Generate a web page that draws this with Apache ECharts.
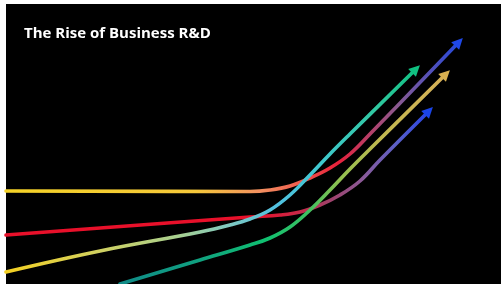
<!DOCTYPE html>
<html>
<head>
<meta charset="utf-8">
<script src="https://cdn.jsdelivr.net/npm/echarts@6/dist/echarts.min.js"></script>
<style>
  html, body { margin: 0; padding: 0; background: #fff; }
  #chart { width: 501px; height: 284px; }
</style>
</head>
<body>
<div id="chart"></div>
<script>
// x = time, y = R&D level (arbitrary units)
const lineA = [[0, 93], [244, 92.5], [264, 94], [284, 98], [304, 106], [324, 116], [344, 130], [364, 150], [453, 242]]
const lineB = [[0, 49], [244, 67], [274, 69], [294, 72], [314, 79], [334, 89], [354, 103], [374, 124], [423, 173]]
const lineC = [[0, 12], [94, 33], [194, 52], [224, 59], [244, 65], [264, 74], [284, 89], [304, 109], [324, 130], [344, 150], [410, 215]]
const lineD = [[114, 0], [194, 24], [244, 39], [264, 46], [284, 57], [304, 74], [324, 94], [344, 115], [364, 135], [440, 210]]

const chart = echarts.init(document.getElementById('chart'))

function grad(stops) {
  return new echarts.graphic.LinearGradient(0, 0, 1, 0,
    stops.map(s => ({ offset: s[0], color: s[1] })))
}

function mkSeries(name, data, stops, arrowColor) {
  const n = data.length
  return {
    name,
    type: 'line',
    data,
    smooth: 0.4,
    showSymbol: false,
    silent: true,
    lineStyle: { width: 3.6, color: grad(stops), cap: 'round' },
    markLine: {
      silent: true,
      symbol: ['none', 'triangle'],
      symbolSize: [11, 11],
      label: { show: false },
      lineStyle: { width: 0, color: arrowColor, type: 'solid' },
      data: [[{ coord: data[n - 2] }, { coord: data[n - 1] }]],
    },
    z: 2,
  }
}

chart.setOption({
  backgroundColor: '#fff',
  animation: false,
  title: {
    text: 'The Rise of Business R&D',
    left: 24, top: 26, padding: 0,
    textStyle: { color: '#fff', fontSize: 15, fontWeight: 'bold', fontFamily: 'Open Sans' },
  },
  grid: { left: 6, right: 0, top: 4, bottom: 0, show: true, backgroundColor: '#000', borderWidth: 0 },
  xAxis: { type: 'value', min: 0, max: 495, show: false },
  yAxis: { type: 'value', min: 0, max: 280, show: false },
  series: [
    mkSeries('A', lineA, [[0, '#f5d327'], [0.42, '#f5c83a'], [0.56, '#f39060'], [0.64, '#f06050'],
      [0.73, '#e8203a'], [0.86, '#8a5a90'], [1, '#2048e0']], '#1f48e8'),
    mkSeries('B', lineB, [[0, '#e8102a'], [0.59, '#e8102a'], [0.69, '#c82848'], [0.76, '#a04068'],
      [0.84, '#8a5a98'], [0.92, '#5a60c8'], [1, '#2040e8']], '#1a44e8'),
    mkSeries('C', lineC, [[0, '#f5d020'], [0.23, '#d0d060'], [0.42, '#a8d090'], [0.54, '#80c8c0'],
      [0.66, '#50c0e0'], [0.76, '#40c8d0'], [0.9, '#30c8a0'], [1, '#10c080']], '#10c080'),
    mkSeries('D', lineD, [[0, '#108a88'], [0.24, '#10a080'], [0.45, '#10c070'], [0.58, '#40c060'],
      [0.67, '#90c050'], [0.79, '#c0b850'], [1, '#d8b058']], '#d8b050'),
  ],
})
</script>
</body>
</html>
